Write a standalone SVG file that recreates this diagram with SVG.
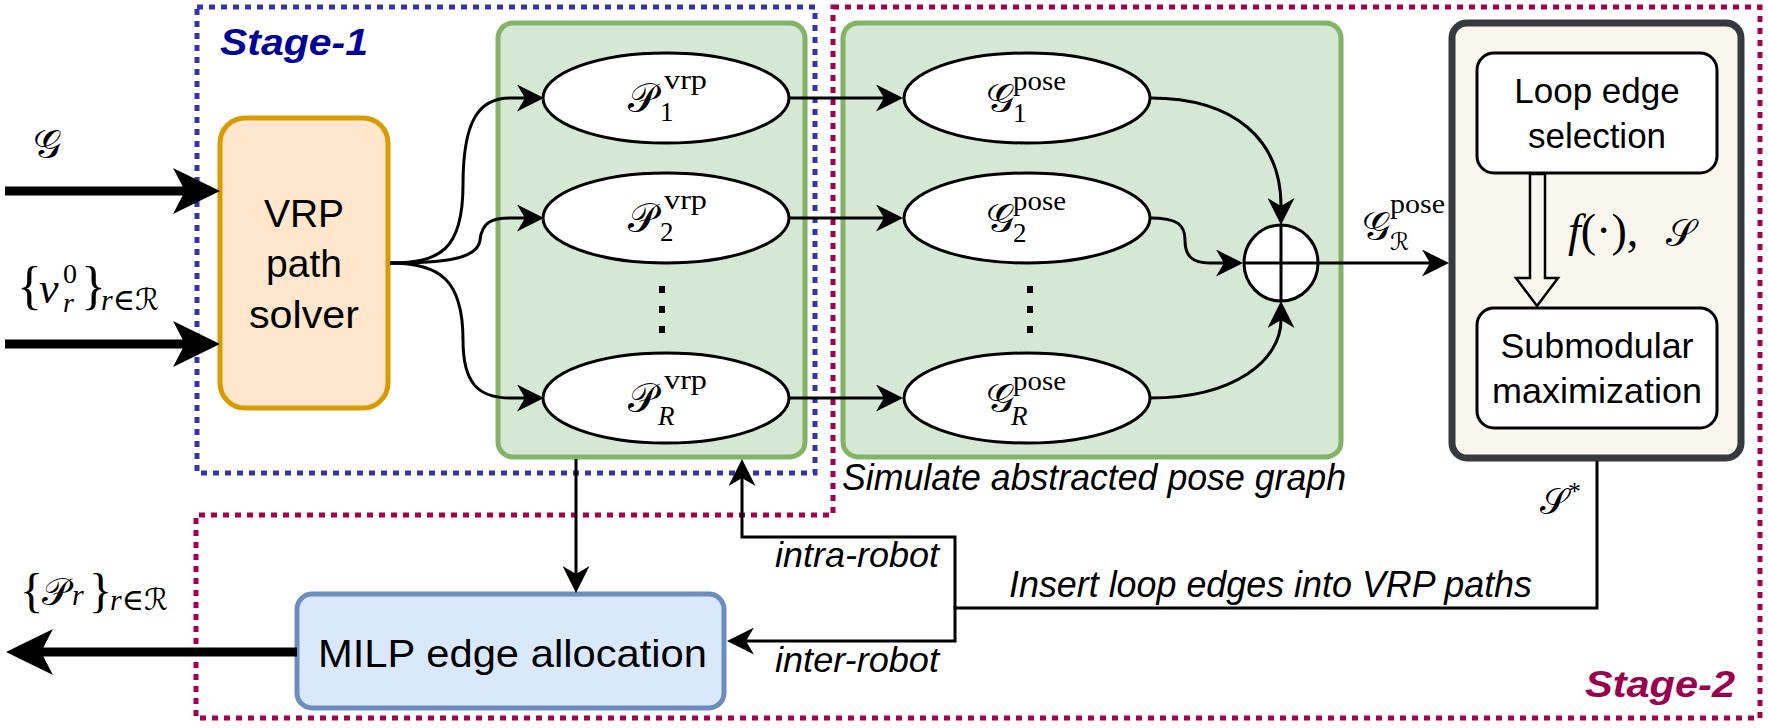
<svg xmlns="http://www.w3.org/2000/svg" width="1768" height="728" viewBox="0 0 1768 728">
<defs>
<style>
.dotb{fill:none;stroke:#3333AA;stroke-width:5;stroke-dasharray:6 6}
.dotr{fill:none;stroke:#A50050;stroke-width:5;stroke-dasharray:6 6}
.grn{fill:#D5E8D4;stroke:#82B366;stroke-width:5}
.ell{fill:#fff;stroke:#000;stroke-width:3}
.wbox{fill:#fff;stroke:#000;stroke-width:3}
.con{fill:none;stroke:#000;stroke-width:3}
.thick{fill:none;stroke:#000;stroke-width:9}
.sans{font-family:"Liberation Sans",Arial,sans-serif;fill:#000}
.it{font-family:"Liberation Sans",Arial,sans-serif;font-style:italic;fill:#000}
.stage{font-family:"Liberation Sans",Arial,sans-serif;font-style:italic;font-weight:bold;font-size:37px}
.m{font-family:"Liberation Serif","DejaVu Serif",serif;fill:#000}
.cal{font-family:"DejaVu Serif","DejaVu Sans","Noto Sans",serif;fill:#000}
.dot{fill:#000}
</style>
<marker id="a" viewBox="0 0 27 27" markerWidth="27" markerHeight="27" refX="8" refY="13.5" orient="auto" markerUnits="userSpaceOnUse"><path d="M0,0 L27,13.5 L0,27 L8,13.5 Z" fill="#000"/></marker>
<marker id="A" viewBox="0 0 47 46" markerWidth="47" markerHeight="46" refX="12" refY="23" orient="auto" markerUnits="userSpaceOnUse"><path d="M0,0 L47,23 L0,46 L12,23 Z" fill="#000"/></marker>
</defs>
<rect width="1768" height="728" fill="#fff"/>

<g id="stage1">
<rect class="dotb" x="197" y="7" width="618" height="466"/>
<text class="stage" x="220" y="55" fill="#000099" textLength="148" lengthAdjust="spacingAndGlyphs">Stage-1</text>
</g>
<g id="stage2">
<path class="dotr" d="M833,7 H1760 V718 H196 V515 H833 Z"/>
<text class="stage" x="1585" y="697" fill="#99004D" textLength="150" lengthAdjust="spacingAndGlyphs">Stage-2</text>
</g>

<g id="vrpgroup"><rect class="grn" x="498" y="23" width="307" height="434" rx="15"/></g>
<g id="posegroup"><rect class="grn" x="843" y="23" width="498" height="434" rx="15"/>
<text class="it" x="842" y="490" font-size="36" textLength="504" lengthAdjust="spacingAndGlyphs">Simulate abstracted pose graph</text></g>

<g id="inputs">
<text class="cal" x="33" y="158" font-size="40">𝒢</text>
<text class="m" font-size="52"><tspan x="17" y="303">{</tspan><tspan x="39" y="303" font-size="44" font-style="italic">v</tspan><tspan x="63" y="283" font-size="28">0</tspan><tspan x="63" y="312" font-size="28" font-style="italic">r</tspan><tspan x="81" y="303">}</tspan><tspan x="101" y="310" font-size="30" font-style="italic">r</tspan><tspan font-size="30">∈</tspan><tspan class="cal" font-size="30">ℛ</tspan></text>
</g>

<g id="vrp">
<rect x="220" y="118" width="168" height="290" rx="25" fill="#FFE6CC" stroke="#D79B00" stroke-width="5"/>
<text class="sans" x="304" y="227" font-size="39" text-anchor="middle">VRP</text>
<text class="sans" x="304" y="277" font-size="39" text-anchor="middle">path</text>
<text class="sans" x="304" y="328" font-size="39" text-anchor="middle" textLength="110" lengthAdjust="spacingAndGlyphs">solver</text>
</g>

<g id="p1"><ellipse class="ell" cx="666" cy="98" rx="123" ry="45"/>
<text class="m" font-size="27"><tspan class="cal" x="628" y="112" font-size="40">𝒫</tspan><tspan x="664" y="89" textLength="43" lengthAdjust="spacingAndGlyphs">vrp</tspan><tspan x="660" y="121">1</tspan></text></g>
<g id="p2"><ellipse class="ell" cx="666" cy="218" rx="123" ry="45"/>
<text class="m" font-size="27"><tspan class="cal" x="628" y="232" font-size="40">𝒫</tspan><tspan x="664" y="209" textLength="43" lengthAdjust="spacingAndGlyphs">vrp</tspan><tspan x="660" y="241">2</tspan></text></g>
<g id="pdots"><rect class="dot" x="659" y="286" width="6" height="7"/><rect class="dot" x="659" y="306" width="6" height="7"/><rect class="dot" x="659" y="326" width="6" height="7"/></g>
<g id="pR"><ellipse class="ell" cx="666" cy="398" rx="123" ry="45"/>
<text class="m" font-size="27"><tspan class="cal" x="628" y="412" font-size="40">𝒫</tspan><tspan x="664" y="389" textLength="43" lengthAdjust="spacingAndGlyphs">vrp</tspan><tspan x="658" y="425" font-style="italic">R</tspan></text></g>

<g id="g1"><ellipse class="ell" cx="1027" cy="98" rx="123" ry="45"/>
<text class="m" font-size="27"><tspan class="cal" x="986" y="112" font-size="40">𝒢</tspan><tspan x="1013" y="90" textLength="53" lengthAdjust="spacingAndGlyphs">pose</tspan><tspan x="1013" y="122">1</tspan></text></g>
<g id="g2"><ellipse class="ell" cx="1027" cy="218" rx="123" ry="45"/>
<text class="m" font-size="27"><tspan class="cal" x="986" y="232" font-size="40">𝒢</tspan><tspan x="1013" y="210" textLength="53" lengthAdjust="spacingAndGlyphs">pose</tspan><tspan x="1013" y="242">2</tspan></text></g>
<g id="gdots"><rect class="dot" x="1027" y="286" width="6" height="7"/><rect class="dot" x="1027" y="306" width="6" height="7"/><rect class="dot" x="1027" y="326" width="6" height="7"/></g>
<g id="gR"><ellipse class="ell" cx="1027" cy="398" rx="123" ry="45"/>
<text class="m" font-size="27"><tspan class="cal" x="986" y="412" font-size="40">𝒢</tspan><tspan x="1013" y="390" textLength="53" lengthAdjust="spacingAndGlyphs">pose</tspan><tspan x="1011" y="425" font-style="italic">R</tspan></text></g>

<g id="oplus"><ellipse class="ell" cx="1281" cy="263" rx="37" ry="38"/>
<path d="M1244,263 H1318 M1281,225 V301" stroke="#000" stroke-width="3"/></g>

<g id="gRlabel">
<text class="m" font-size="27"><tspan class="cal" x="1362" y="240" font-size="40">𝒢</tspan><tspan x="1390" y="213" textLength="55" lengthAdjust="spacingAndGlyphs">pose</tspan><tspan class="cal" x="1390" y="250" font-size="24">ℛ</tspan></text>
</g>

<g id="stage2box">
<rect x="1452" y="23" width="289" height="435" rx="15" fill="#F9F7ED" stroke="#36393D" stroke-width="7"/>
</g>
<g id="loopsel"><rect class="wbox" x="1477" y="53" width="240" height="120" rx="17"/>
<text class="sans" x="1597" y="103" font-size="35" text-anchor="middle">Loop edge</text>
<text class="sans" x="1597" y="148" font-size="35" text-anchor="middle">selection</text></g>
<g id="submod"><rect class="wbox" x="1477" y="308" width="240" height="120" rx="17"/>
<text class="sans" x="1597" y="358" font-size="35" text-anchor="middle" textLength="193" lengthAdjust="spacingAndGlyphs">Submodular</text>
<text class="sans" x="1597" y="403" font-size="35" text-anchor="middle" textLength="210" lengthAdjust="spacingAndGlyphs">maximization</text></g>
<g id="flabel">
<text class="m" font-size="46"><tspan x="1568" y="246" font-style="italic">f</tspan><tspan>(·),</tspan><tspan class="cal" x="1666" y="246" font-size="38">𝒮</tspan></text>
</g>

<g id="labels">
<text class="m" font-size="26"><tspan class="cal" x="1540" y="514" font-size="36">𝒮</tspan><tspan x="1568" y="500">*</tspan></text>
<text class="it" x="1009" y="597" font-size="36" textLength="523" lengthAdjust="spacingAndGlyphs">Insert loop edges into VRP paths</text>
<text class="it" x="775" y="567" font-size="35" textLength="164" lengthAdjust="spacingAndGlyphs">intra-robot</text>
<text class="it" x="775" y="672" font-size="35" textLength="164" lengthAdjust="spacingAndGlyphs">inter-robot</text>
</g>

<g id="milp"><rect x="297" y="594" width="427" height="114" rx="15" fill="#DAE8FC" stroke="#6C8EBF" stroke-width="5"/>
<text class="sans" x="318" y="667" font-size="39" textLength="389" lengthAdjust="spacingAndGlyphs">MILP edge allocation</text></g>

<g id="output">
<text class="m" font-size="48"><tspan x="20" y="607">{</tspan><tspan class="cal" x="42" y="605" font-size="38">𝒫</tspan><tspan x="72" y="605" font-size="30" font-style="italic">r</tspan><tspan x="89" y="607">}</tspan><tspan x="110" y="610" font-size="30" font-style="italic">r</tspan><tspan font-size="30">∈</tspan><tspan class="cal" font-size="30">ℛ</tspan></text>
</g>

<g id="connectors">
<path class="thick" d="M5,191 H185" marker-end="url(#A)"/>
<path class="thick" d="M5,344 H185" marker-end="url(#A)"/>
<path class="thick" d="M297,652 H41" marker-end="url(#A)"/>
<path class="con" d="M390,263 C440,263 463,250 463,185 C463,122 478,98 510,98 L525,98" marker-end="url(#a)"/>
<path class="con" d="M390,263 C440,263 478,260 480,240 C482,222 492,218 510,218 L525,218" marker-end="url(#a)"/>
<path class="con" d="M390,263 C440,263 463,280 463,340 C463,383 478,398 510,398 L525,398" marker-end="url(#a)"/>
<path class="con" d="M789,98 H884" marker-end="url(#a)"/>
<path class="con" d="M789,218 H884" marker-end="url(#a)"/>
<path class="con" d="M789,398 H884" marker-end="url(#a)"/>
<path class="con" d="M1150,98 C1235,98 1281,140 1281,206" marker-end="url(#a)"/>
<path class="con" d="M1150,218 C1178,218 1185,225 1185,240 C1185,256 1192,263 1210,263 L1224,263" marker-end="url(#a)"/>
<path class="con" d="M1150,398 C1235,398 1281,360 1281,320" marker-end="url(#a)"/>
<path class="con" d="M1319,263 H1430" marker-end="url(#a)"/>
<path class="con" d="M576,459 V574" marker-end="url(#a)"/>
<path class="con" d="M1597,461 V608 H955 V537 H742 V478" marker-end="url(#a)"/>
<path class="con" d="M955,606 V641 H746" marker-end="url(#a)"/>
<polygon points="1530,174 1545,174 1545,278 1558,278 1537,306 1516,278 1530,278" fill="#F9F7ED" stroke="#000" stroke-width="2.5"/>
</g>
</svg>
